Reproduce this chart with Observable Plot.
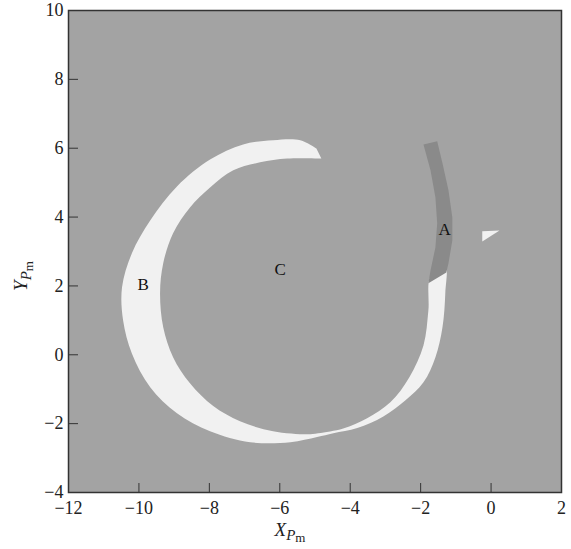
<!DOCTYPE html>
<html>
<head>
<meta charset="utf-8">
<script src="https://cdn.jsdelivr.net/npm/d3@7"></script>
<script src="https://cdn.jsdelivr.net/npm/@observablehq/plot@0.6"></script>
<style>
  html, body { margin: 0; padding: 0; background: #fff; }
  #chart svg { display: block; font-family: "Liberation Serif", "DejaVu Serif", serif; }
</style>
</head>
<body>
<div id="chart"></div>
<script>
// Axis ticks
const xTicks = [-12, -10, -8, -6, -4, -2, 0, 2];
const yTicks = [-4, -2, 0, 2, 4, 6, 8, 10];

// White spiral / crescent region B (boundary points;
// starts at the upper tip and ends at the lower tip)
const crescentX = [-4.96, -5.42, -6.19, -7.04, -7.98, -8.92, -9.68, -10.20, -10.48, -10.45, -10.20, -9.68, -8.92, -7.98, -6.84, -5.70, -4.94, -4.48, -3.80, -3.06, -2.43, -1.92, -1.58, -1.38, -1.30, -1.30, -1.72, -1.78, -1.92, -2.32, -2.86, -3.52, -4.20, -4.91, -5.22, -6.19, -7.13, -7.89, -8.55, -9.03, -9.31, -9.40, -9.31, -9.03, -8.55, -7.98, -7.32, -6.56, -5.79, -4.82];
const crescentY = [5.99, 6.23, 6.23, 6.11, 5.67, 4.89, 3.90, 2.95, 1.96, 1.00, 0.04, -0.94, -1.70, -2.22, -2.54, -2.54, -2.39, -2.28, -2.13, -1.79, -1.32, -0.80, -0.07, 0.80, 1.79, 2.60, 2.28, 1.29, 0.27, -0.65, -1.38, -1.84, -2.14, -2.28, -2.31, -2.22, -1.93, -1.49, -0.83, -0.07, 0.80, 1.79, 2.66, 3.53, 4.28, 4.86, 5.36, 5.59, 5.70, 5.70];

// Dark band A
const bandX = [-1.92, -1.53, -1.38, -1.21, -1.10, -1.10, -1.21, -1.27, -1.78, -1.72, -1.58, -1.53, -1.58, -1.72];
const bandY = [6.11, 6.20, 5.56, 4.78, 3.99, 3.32, 2.66, 2.39, 2.08, 2.45, 3.12, 3.82, 4.57, 5.36];

// Small white wedge
const wedgeX = [-0.25, 0.24, -0.25];
const wedgeY = [3.59, 3.61, 3.29];

// Region labels
const labelText = ["A", "B", "C"];
const labelX = [-1.32, -9.88, -5.99];
const labelY = [3.64, 2.05, 2.48];

const toPts = (xs, ys) => xs.map((x, i) => ({x, y: ys[i]}));
const crescent = toPts(crescentX, crescentY);
const band = toPts(bandX, bandY);
const wedge = toPts(wedgeX, wedgeY);
const labels = labelText.map((t, i) => ({t, x: labelX[i], y: labelY[i]}));

const fmt = d => String(d).replace("-", "\u2212");

const plot = Plot.plot({
  width: 571,
  height: 549,
  marginLeft: 68,
  marginRight: 10,
  marginTop: 10,
  marginBottom: 57,
  style: {fontFamily: "Liberation Serif, serif", fontSize: "18px", color: "#222", background: "#fff"},
  x: {domain: [-12, 2]},
  y: {domain: [-4, 10]},
  marks: [
    Plot.frame({fill: "#a3a3a3", stroke: null}),
    Plot.line(crescent, {x: "x", y: "y", fill: "#f1f1f1", stroke: "none", curve: "catmull-rom"}),
    Plot.line(band, {x: "x", y: "y", fill: "#8a8a8a", stroke: "none", curve: "linear-closed"}),
    Plot.line(wedge, {x: "x", y: "y", fill: "#f1f1f1", stroke: "none", curve: "linear-closed"}),
    Plot.text(labels, {x: "x", y: "y", text: "t", fontSize: 17, fill: "#111"}),
    // inward ticks
    Plot.axisX(xTicks.slice(1, -1), {anchor: "bottom", tickSize: 9, dy: -9, text: null, label: null, stroke: "#333"}),
    Plot.axisY(yTicks.slice(1, -1), {anchor: "left", tickSize: 10, dx: 10, text: null, label: null, stroke: "#333"}),
    // tick labels
    Plot.axisX(xTicks, {anchor: "bottom", tickSize: 0, tickPadding: 9, label: null, fontSize: 18, tickFormat: fmt}),
    Plot.axisY(yTicks, {anchor: "left", tickSize: 0, tickPadding: 5, label: null, fontSize: 18, tickFormat: fmt}),
    Plot.frame({stroke: "#333", strokeWidth: 1.5})
  ]
});

document.getElementById("chart").appendChild(plot);

// Axis titles with subscripts
const svg = d3.select(plot);
const xt = svg.append("text")
  .attr("x", 290).attr("y", 536)
  .attr("font-family", "Liberation Serif, serif")
  .attr("fill", "#222");
xt.append("tspan").attr("font-style", "italic").attr("font-size", 19).text("X");
xt.append("tspan").attr("font-style", "italic").attr("font-size", 15).attr("dy", 4).text("P");
xt.append("tspan").attr("font-size", 13).attr("dy", 2).text("m");

const yt = svg.append("text")
  .attr("transform", "translate(27,276) rotate(-90)")
  .attr("font-family", "Liberation Serif, serif")
  .attr("fill", "#222");
yt.append("tspan").attr("font-style", "italic").attr("font-size", 19).text("Y");
yt.append("tspan").attr("font-style", "italic").attr("font-size", 15).attr("dy", 4).text("P");
yt.append("tspan").attr("font-size", 13).attr("dy", 2).text("m");
</script>
</body>
</html>
